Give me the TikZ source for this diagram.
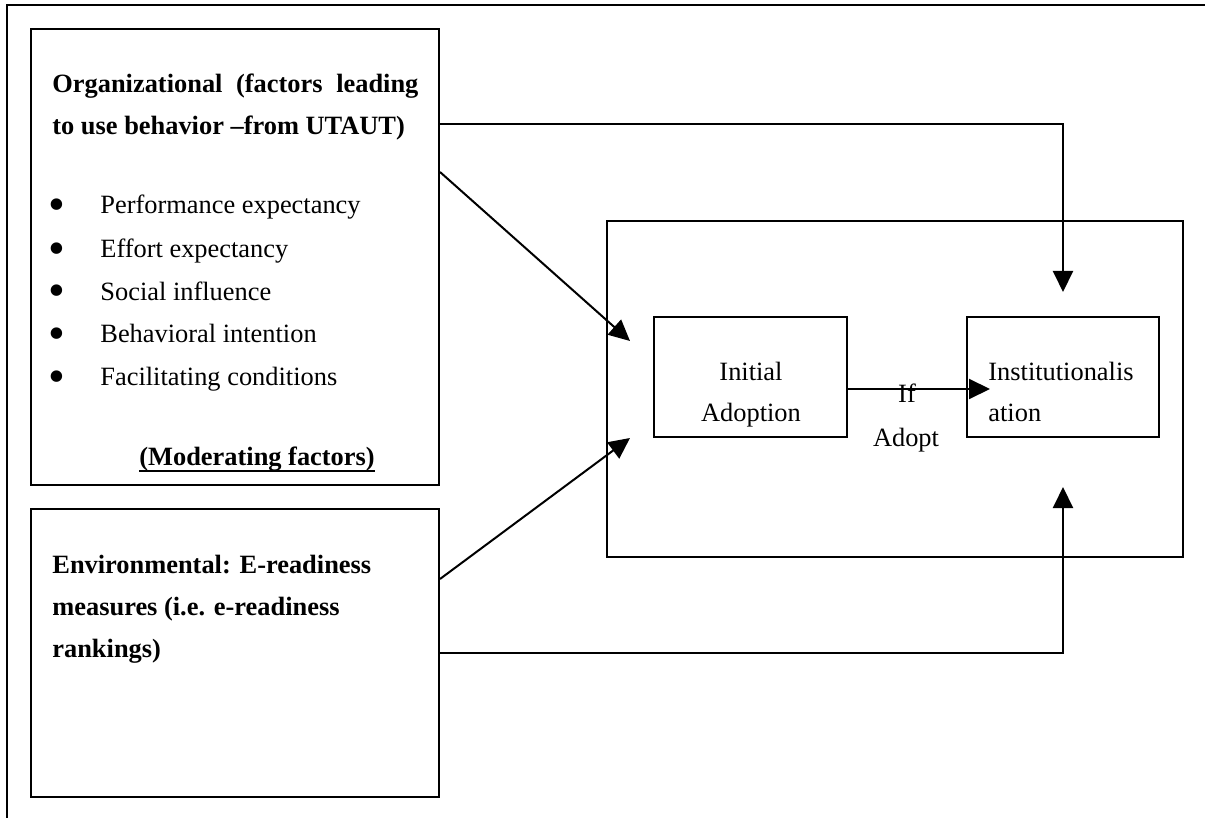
\documentclass[tikz,border=0pt]{standalone}
\usepackage{fontspec}
\setmainfont{Liberation Serif}
\usetikzlibrary{arrows.meta}
% underline with a 1pt rule placed just below the baseline
\newcommand{\thickuline}[1]{\setbox0=\hbox{#1}\rlap{\rule[-3.5pt]{\wd0}{1pt}}\box0}
\begin{document}
\begin{tikzpicture}[x=0.5pt,y=-0.5pt,
  box/.style={draw,line width=1pt,inner sep=0pt},
  arr/.style={line width=1pt,-{Triangle[length=10.5pt,width=10pt]}},
  txt/.style={inner sep=0pt,anchor=base west,font=\fontsize{13.2}{16}\selectfont},
  btxt/.style={txt,font=\fontsize{13.2}{16}\selectfont\bfseries},
  ctxt/.style={txt,anchor=base},
  dot/.style={inner sep=0pt,font=\fontsize{24}{26}\selectfont}]
\useasboundingbox (0,0) rectangle (1205,818);
% page frame: top and left edges
\draw[line width=1pt] (1205,5) -- (7,5) -- (7,818);

% boxes
\node[box,minimum width=204pt,minimum height=228pt] (org) at (235,257) {};
\node[box,minimum width=204pt,minimum height=144pt] (env) at (235,653) {};
\node[box,minimum width=288pt,minimum height=168pt] (stage) at (895,389) {};
\node[box,minimum width=96.5pt,minimum height=60pt] (ia) at (750.5,377) {};
\node[box,minimum width=96pt,minimum height=60pt] (inst) at (1063,377) {};

% organizational factors
\node[btxt] (orgT1) at (52,93) {\makebox[183pt][s]{Organizational (factors leading}};
\node[btxt] (orgT2) at (52,135) {to use behavior –from UTAUT)};
\foreach \y/\t [count=\i] in {214/Performance expectancy, 258/Effort expectancy,
    300/Social influence, 343/Behavioral intention, 386/Facilitating conditions} {
  \node[dot] (b\i) at (57,\y-4) {\textbullet};
  \node[txt] (f\i) at (100,\y) {\t};
}
\node[btxt] (mod) at (139,465) {\thickuline{(Moderating factors)}};

% environmental factors
\node[btxt] (envT1) at (52,573) {Environmental: E-readiness};
\node[btxt] (envT2) at (52,615) {measures (i.e. e-readiness};
\node[btxt] (envT3) at (52,657) {rankings)};

% stages
\node[ctxt] (iaT1) at (751,380) {Initial};
\node[ctxt] (iaT2) at (751,422) {Adoption};
\node[txt] (inT1) at (988,380) {Institutionalis};
\node[txt] (inT2) at (988,422) {ation};

% arrow end points
\coordinate (topTip) at ([yshift=12pt]inst.north);
\coordinate (botTip) at ([yshift=-24.5pt]inst.south);
\coordinate (upTip) at ([xshift=12pt,yshift=24pt]stage.west);
\coordinate (lowTip) at ([xshift=12pt,yshift=-24.5pt]stage.west);
\coordinate (ifTip) at ([xshift=12pt,yshift=-6pt]inst.west);

% connectors
\draw[arr] ([yshift=-48pt]org.north east) -| (topTip);
\draw[arr] ([yshift=-72pt]org.north east) -- (upTip);
\draw[arr] ([yshift=-35.5pt]env.north east) -- (lowTip);
\draw[arr] (env.east) -| (botTip);
\draw[arr] (ia.east |- ifTip) -- (ifTip);

% transition label
\node[ctxt] (ifT) at (907,402) {If};
\node[ctxt] (adT) at (906,446) {Adopt};
\end{tikzpicture}
\end{document}
